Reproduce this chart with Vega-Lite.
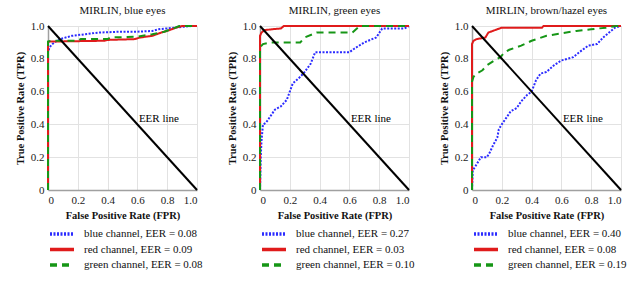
{
  "$schema": "https://vega.github.io/schema/vega-lite/v6.json",
  "padding": {"left": 15, "top": 5, "right": 5, "bottom": 0},
  "spacing": 24,
  "background": "white",
  "config": {
    "font": "Liberation Serif",
    "view": {"stroke": null},
    "title": {"font": "Liberation Serif", "fontSize": 11, "fontWeight": "normal", "color": "#111", "offset": 4},
    "axis": {
      "labelFont": "Liberation Serif", "labelFontSize": 11, "labelColor": "#222", "labelOverlap": false,
      "titleFont": "Liberation Serif", "titleFontSize": 10.5, "titleFontWeight": "bold", "titleColor": "#111",
      "ticks": false, "labelPadding": 4, "titlePadding": 5,
      "gridColor": "#e2e2e2", "gridWidth": 1, "domainColor": "#a0a0a0", "domainWidth": 1.5
    },
    "legend": {
      "orient": "bottom", "direction": "vertical", "symbolType": "M-1,0H5", "symbolSize": 64,
      "symbolStrokeWidth": 3.5, "labelFont": "Liberation Serif", "labelFontSize": 11, "labelColor": "#111",
      "labelOffset": 24, "rowPadding": 1.5, "offset": 7, "padding": 0
    }
  },
  "datasets": {
    "roc": [
      {"p":1,"s":"b","x":0,"y":0},{"p":1,"s":"b","x":0,"y":0.84},{"p":1,"s":"b","x":0.01,"y":0.87},{"p":1,"s":"b","x":0.03,"y":0.89},{"p":1,"s":"b","x":0.06,"y":0.91},{"p":1,"s":"b","x":0.1,"y":0.925},{"p":1,"s":"b","x":0.16,"y":0.94},{"p":1,"s":"b","x":0.25,"y":0.95},{"p":1,"s":"b","x":0.34,"y":0.96},{"p":1,"s":"b","x":0.48,"y":0.965},{"p":1,"s":"b","x":0.6,"y":0.965},{"p":1,"s":"b","x":0.7,"y":0.97},{"p":1,"s":"b","x":0.74,"y":0.98},{"p":1,"s":"b","x":0.85,"y":0.99},{"p":1,"s":"b","x":0.96,"y":1.0},{"p":1,"s":"b","x":1,"y":1},
      {"p":1,"s":"r","x":0,"y":0},{"p":1,"s":"r","x":0,"y":0.9},{"p":1,"s":"r","x":0.01,"y":0.905},{"p":1,"s":"r","x":0.38,"y":0.91},{"p":1,"s":"r","x":0.4,"y":0.915},{"p":1,"s":"r","x":0.58,"y":0.92},{"p":1,"s":"r","x":0.62,"y":0.93},{"p":1,"s":"r","x":0.7,"y":0.94},{"p":1,"s":"r","x":0.76,"y":0.96},{"p":1,"s":"r","x":0.8,"y":0.97},{"p":1,"s":"r","x":0.86,"y":0.99},{"p":1,"s":"r","x":0.9,"y":1.0},{"p":1,"s":"r","x":1,"y":1},
      {"p":1,"s":"g","x":0,"y":0},{"p":1,"s":"g","x":0,"y":0.905},{"p":1,"s":"g","x":0.02,"y":0.91},{"p":1,"s":"g","x":0.2,"y":0.91},{"p":1,"s":"g","x":0.22,"y":0.92},{"p":1,"s":"g","x":0.4,"y":0.92},{"p":1,"s":"g","x":0.42,"y":0.93},{"p":1,"s":"g","x":0.6,"y":0.935},{"p":1,"s":"g","x":0.7,"y":0.95},{"p":1,"s":"g","x":0.78,"y":0.965},{"p":1,"s":"g","x":0.84,"y":0.985},{"p":1,"s":"g","x":0.88,"y":1.0},{"p":1,"s":"g","x":1,"y":1},
      {"p":2,"s":"b","x":0,"y":0},{"p":2,"s":"b","x":0.005,"y":0.2},{"p":2,"s":"b","x":0.01,"y":0.3},{"p":2,"s":"b","x":0.02,"y":0.4},{"p":2,"s":"b","x":0.04,"y":0.41},{"p":2,"s":"b","x":0.07,"y":0.45},{"p":2,"s":"b","x":0.1,"y":0.49},{"p":2,"s":"b","x":0.14,"y":0.51},{"p":2,"s":"b","x":0.18,"y":0.55},{"p":2,"s":"b","x":0.2,"y":0.6},{"p":2,"s":"b","x":0.22,"y":0.65},{"p":2,"s":"b","x":0.27,"y":0.69},{"p":2,"s":"b","x":0.3,"y":0.72},{"p":2,"s":"b","x":0.34,"y":0.77},{"p":2,"s":"b","x":0.37,"y":0.84},{"p":2,"s":"b","x":0.6,"y":0.84},{"p":2,"s":"b","x":0.63,"y":0.86},{"p":2,"s":"b","x":0.7,"y":0.9},{"p":2,"s":"b","x":0.78,"y":0.93},{"p":2,"s":"b","x":0.82,"y":0.985},{"p":2,"s":"b","x":0.97,"y":0.985},{"p":2,"s":"b","x":1,"y":1},
      {"p":2,"s":"r","x":0,"y":0},{"p":2,"s":"r","x":0,"y":0.94},{"p":2,"s":"r","x":0.01,"y":0.96},{"p":2,"s":"r","x":0.03,"y":0.975},{"p":2,"s":"r","x":0.08,"y":0.98},{"p":2,"s":"r","x":0.14,"y":0.985},{"p":2,"s":"r","x":0.16,"y":1.0},{"p":2,"s":"r","x":1,"y":1},
      {"p":2,"s":"g","x":0,"y":0},{"p":2,"s":"g","x":0,"y":0.87},{"p":2,"s":"g","x":0.02,"y":0.89},{"p":2,"s":"g","x":0.07,"y":0.9},{"p":2,"s":"g","x":0.27,"y":0.9},{"p":2,"s":"g","x":0.3,"y":0.93},{"p":2,"s":"g","x":0.38,"y":0.96},{"p":2,"s":"g","x":0.62,"y":0.96},{"p":2,"s":"g","x":0.67,"y":1.0},{"p":2,"s":"g","x":1,"y":1},
      {"p":3,"s":"b","x":0,"y":0},{"p":3,"s":"b","x":0.005,"y":0.12},{"p":3,"s":"b","x":0.02,"y":0.14},{"p":3,"s":"b","x":0.04,"y":0.17},{"p":3,"s":"b","x":0.06,"y":0.2},{"p":3,"s":"b","x":0.1,"y":0.2},{"p":3,"s":"b","x":0.12,"y":0.23},{"p":3,"s":"b","x":0.14,"y":0.27},{"p":3,"s":"b","x":0.17,"y":0.32},{"p":3,"s":"b","x":0.18,"y":0.37},{"p":3,"s":"b","x":0.2,"y":0.4},{"p":3,"s":"b","x":0.23,"y":0.44},{"p":3,"s":"b","x":0.26,"y":0.48},{"p":3,"s":"b","x":0.3,"y":0.5},{"p":3,"s":"b","x":0.33,"y":0.54},{"p":3,"s":"b","x":0.37,"y":0.58},{"p":3,"s":"b","x":0.4,"y":0.6},{"p":3,"s":"b","x":0.43,"y":0.67},{"p":3,"s":"b","x":0.46,"y":0.71},{"p":3,"s":"b","x":0.5,"y":0.72},{"p":3,"s":"b","x":0.55,"y":0.76},{"p":3,"s":"b","x":0.6,"y":0.79},{"p":3,"s":"b","x":0.68,"y":0.81},{"p":3,"s":"b","x":0.72,"y":0.84},{"p":3,"s":"b","x":0.78,"y":0.88},{"p":3,"s":"b","x":0.84,"y":0.89},{"p":3,"s":"b","x":0.88,"y":0.93},{"p":3,"s":"b","x":0.92,"y":0.96},{"p":3,"s":"b","x":0.96,"y":0.99},{"p":3,"s":"b","x":1,"y":1},
      {"p":3,"s":"r","x":0,"y":0},{"p":3,"s":"r","x":0,"y":0.89},{"p":3,"s":"r","x":0.01,"y":0.91},{"p":3,"s":"r","x":0.03,"y":0.92},{"p":3,"s":"r","x":0.09,"y":0.93},{"p":3,"s":"r","x":0.11,"y":0.96},{"p":3,"s":"r","x":0.17,"y":0.98},{"p":3,"s":"r","x":0.2,"y":0.99},{"p":3,"s":"r","x":0.47,"y":0.99},{"p":3,"s":"r","x":0.48,"y":1.0},{"p":3,"s":"r","x":1,"y":1},
      {"p":3,"s":"g","x":0,"y":0},{"p":3,"s":"g","x":0,"y":0.66},{"p":3,"s":"g","x":0.01,"y":0.69},{"p":3,"s":"g","x":0.03,"y":0.71},{"p":3,"s":"g","x":0.07,"y":0.73},{"p":3,"s":"g","x":0.1,"y":0.76},{"p":3,"s":"g","x":0.15,"y":0.79},{"p":3,"s":"g","x":0.19,"y":0.81},{"p":3,"s":"g","x":0.22,"y":0.84},{"p":3,"s":"g","x":0.25,"y":0.855},{"p":3,"s":"g","x":0.33,"y":0.88},{"p":3,"s":"g","x":0.4,"y":0.91},{"p":3,"s":"g","x":0.5,"y":0.94},{"p":3,"s":"g","x":0.6,"y":0.955},{"p":3,"s":"g","x":0.7,"y":0.97},{"p":3,"s":"g","x":0.8,"y":0.98},{"p":3,"s":"g","x":0.9,"y":0.99},{"p":3,"s":"g","x":0.97,"y":1.0},{"p":3,"s":"g","x":1,"y":1}
    ],
    "eer": [{"x":0,"y":1},{"x":1,"y":0}],
    "lbl": [{"x":0.61,"y":0.43,"t":"EER line"}]
  },
  "hconcat": [
    {
      "title": "MIRLIN, blue eyes", "width": 149, "height": 164,
      "encoding": {
        "x": {"field": "x", "type": "quantitative", "scale": {"domain": [0, 1], "nice": false}, "axis": {"title": "False Positive Rate (FPR)", "values": [0, 0.2, 0.4, 0.6, 0.8, 1], "labelOverlap": false, "labelExpr": "datum.value == 0 ? '0' : format(datum.value, '.1f')"}},
        "y": {"field": "y", "type": "quantitative", "scale": {"domain": [0, 1], "nice": false}, "axis": {"title": "True Positive Rate (TPR)", "values": [0, 0.2, 0.4, 0.6, 0.8, 1], "labelOverlap": false, "labelExpr": "datum.value == 0 ? '0' : format(datum.value, '.1f')"}}
      },
      "layer": [
        {"data": {"name": "roc"}, "transform": [{"filter": "datum.p == 1"}],
         "mark": {"type": "line", "strokeWidth": 2},
         "encoding": {
           "color": {"field": "s", "type": "nominal", "scale": {"domain": ["b", "r", "g"], "range": ["#2b2bff", "#e01b1b", "#169616"]}, "legend": {"title": null, "labelExpr": "{'b': 'blue channel, EER = 0.08', 'r': 'red channel, EER = 0.09', 'g': 'green channel, EER = 0.08'}[datum.label]"}},
           "strokeDash": {"field": "s", "type": "nominal", "scale": {"domain": ["b", "r", "g"], "range": [[2, 1.5], [1, 0], [7, 5]]}, "legend": {"title": null, "labelExpr": "{'b': 'blue channel, EER = 0.08', 'r': 'red channel, EER = 0.09', 'g': 'green channel, EER = 0.08'}[datum.label]"}},
           "order": {"value": null}
         }},
        {"data": {"name": "eer"}, "mark": {"type": "line", "color": "black", "strokeWidth": 2}, "encoding": {}},
        {"data": {"name": "lbl"}, "mark": {"type": "text", "align": "left", "baseline": "middle", "font": "Liberation Serif", "fontSize": 11, "color": "black"},
         "encoding": {"text": {"field": "t"}}}
      ]
    },
    {
      "title": "MIRLIN, green eyes", "width": 149, "height": 164,
      "encoding": {
        "x": {"field": "x", "type": "quantitative", "scale": {"domain": [0, 1], "nice": false}, "axis": {"title": "False Positive Rate (FPR)", "values": [0, 0.2, 0.4, 0.6, 0.8, 1], "labelOverlap": false, "labelExpr": "datum.value == 0 ? '0' : format(datum.value, '.1f')"}},
        "y": {"field": "y", "type": "quantitative", "scale": {"domain": [0, 1], "nice": false}, "axis": {"title": "True Positive Rate (TPR)", "values": [0, 0.2, 0.4, 0.6, 0.8, 1], "labelOverlap": false, "labelExpr": "datum.value == 0 ? '0' : format(datum.value, '.1f')"}}
      },
      "layer": [
        {"data": {"name": "roc"}, "transform": [{"filter": "datum.p == 2"}],
         "mark": {"type": "line", "strokeWidth": 2},
         "encoding": {
           "color": {"field": "s", "type": "nominal", "scale": {"domain": ["b", "r", "g"], "range": ["#2b2bff", "#e01b1b", "#169616"]}, "legend": {"title": null, "labelExpr": "{'b': 'blue channel, EER = 0.27', 'r': 'red channel, EER = 0.03', 'g': 'green channel, EER = 0.10'}[datum.label]"}},
           "strokeDash": {"field": "s", "type": "nominal", "scale": {"domain": ["b", "r", "g"], "range": [[2, 1.5], [1, 0], [7, 5]]}, "legend": {"title": null, "labelExpr": "{'b': 'blue channel, EER = 0.27', 'r': 'red channel, EER = 0.03', 'g': 'green channel, EER = 0.10'}[datum.label]"}},
           "order": {"value": null}
         }},
        {"data": {"name": "eer"}, "mark": {"type": "line", "color": "black", "strokeWidth": 2}, "encoding": {}},
        {"data": {"name": "lbl"}, "mark": {"type": "text", "align": "left", "baseline": "middle", "font": "Liberation Serif", "fontSize": 11, "color": "black"},
         "encoding": {"text": {"field": "t"}}}
      ]
    },
    {
      "title": "MIRLIN, brown/hazel eyes", "width": 149, "height": 164,
      "encoding": {
        "x": {"field": "x", "type": "quantitative", "scale": {"domain": [0, 1], "nice": false}, "axis": {"title": "False Positive Rate (FPR)", "values": [0, 0.2, 0.4, 0.6, 0.8, 1], "labelOverlap": false, "labelExpr": "datum.value == 0 ? '0' : format(datum.value, '.1f')"}},
        "y": {"field": "y", "type": "quantitative", "scale": {"domain": [0, 1], "nice": false}, "axis": {"title": "True Positive Rate (TPR)", "values": [0, 0.2, 0.4, 0.6, 0.8, 1], "labelOverlap": false, "labelExpr": "datum.value == 0 ? '0' : format(datum.value, '.1f')"}}
      },
      "layer": [
        {"data": {"name": "roc"}, "transform": [{"filter": "datum.p == 3"}],
         "mark": {"type": "line", "strokeWidth": 2},
         "encoding": {
           "color": {"field": "s", "type": "nominal", "scale": {"domain": ["b", "r", "g"], "range": ["#2b2bff", "#e01b1b", "#169616"]}, "legend": {"title": null, "labelExpr": "{'b': 'blue channel, EER = 0.40', 'r': 'red channel, EER = 0.08', 'g': 'green channel, EER = 0.19'}[datum.label]"}},
           "strokeDash": {"field": "s", "type": "nominal", "scale": {"domain": ["b", "r", "g"], "range": [[2, 1.5], [1, 0], [7, 5]]}, "legend": {"title": null, "labelExpr": "{'b': 'blue channel, EER = 0.40', 'r': 'red channel, EER = 0.08', 'g': 'green channel, EER = 0.19'}[datum.label]"}},
           "order": {"value": null}
         }},
        {"data": {"name": "eer"}, "mark": {"type": "line", "color": "black", "strokeWidth": 2}, "encoding": {}},
        {"data": {"name": "lbl"}, "mark": {"type": "text", "align": "left", "baseline": "middle", "font": "Liberation Serif", "fontSize": 11, "color": "black"},
         "encoding": {"text": {"field": "t"}}}
      ]
    }
  ],
  "resolve": {"scale": {"color": "independent", "strokeDash": "independent"}, "legend": {"color": "independent", "strokeDash": "independent"}}
}
